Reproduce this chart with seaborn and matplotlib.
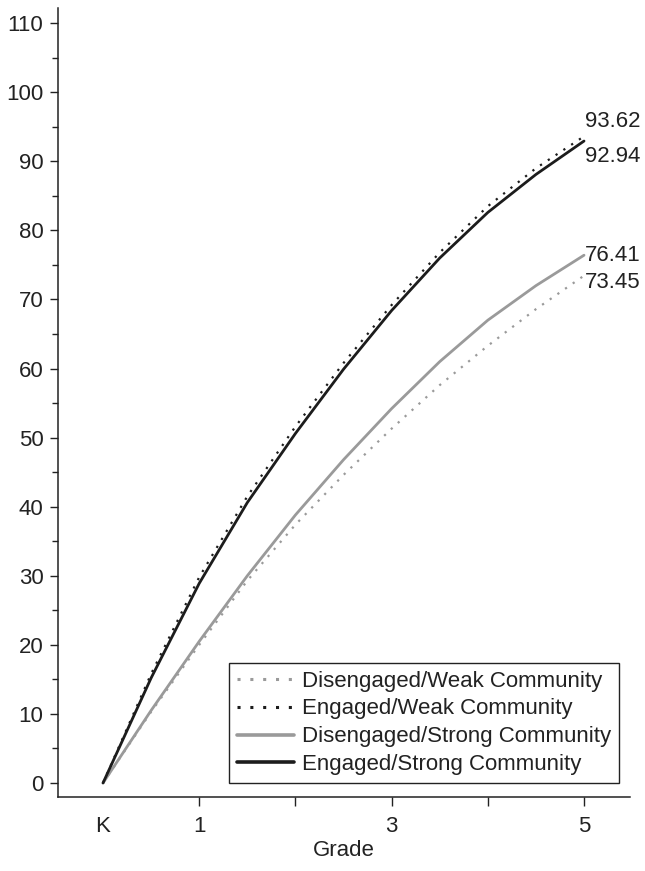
import matplotlib
matplotlib.use("Agg")
import matplotlib.pyplot as plt
import seaborn as sns
import pandas as pd
from matplotlib.ticker import FixedLocator, MultipleLocator

# Growth in score by grade (K = 0) for four engagement / community groups
grades = [0, 0.5, 1, 1.5, 2, 2.5, 3, 3.5, 4, 4.5, 5]
disengaged_weak = [0, 10.3, 20.0, 29.3, 37.4, 44.6, 51.3, 57.6, 63.3, 68.6, 73.45]
engaged_weak = [0, 15.8, 29.8, 41.5, 51.6, 60.8, 69.2, 76.8, 83.5, 89.0, 93.62]
disengaged_strong = [0, 10.5, 20.5, 30.0, 38.8, 46.8, 54.2, 61.0, 67.0, 72.0, 76.41]
engaged_strong = [0, 15.2, 28.9, 40.6, 50.6, 59.9, 68.4, 76.0, 82.6, 88.1, 92.94]

series_names = ["Disengaged/Weak Community", "Engaged/Weak Community",
                "Disengaged/Strong Community", "Engaged/Strong Community"]
series_values = [disengaged_weak, engaged_weak, disengaged_strong, engaged_strong]

x_tick_values = [0, 1, 3, 5]
x_tick_labels = ["K", "1", "3", "5"]

sns.set_theme(style="ticks")
plt.rcParams["font.family"] = ["Liberation Sans", "DejaVu Sans"]

FS = 16
INK = "#222222"
BLACK = "#1c1c1c"
GRAY = "#9a9a9a"
DOT = (0, (1, 3.2))
styles = {
    "Disengaged/Weak Community": dict(color=GRAY, linestyle=DOT, lw=1.6),
    "Engaged/Weak Community": dict(color=BLACK, linestyle=DOT, lw=1.6),
    "Disengaged/Strong Community": dict(color=GRAY, linestyle="-", lw=2.0),
    "Engaged/Strong Community": dict(color=BLACK, linestyle="-", lw=2.0),
}

fig = plt.figure(figsize=(6.45, 8.71), dpi=100)
ax = fig.add_axes([58 / 645, 1 - 797 / 871, (630 - 58) / 645, (797 - 8) / 871])

frames = []
for name, vals in zip(series_names, series_values):
    frames.append(pd.DataFrame({"Grade": grades, "Score": vals, "Group": name}))
df = pd.concat(frames, ignore_index=True)

for name in series_names:
    st = styles[name]
    sns.lineplot(data=df[df["Group"] == name], x="Grade", y="Score", ax=ax,
                 color=st["color"], linewidth=st["lw"], label=name,
                 sort=True, estimator=None)
    ax.lines[-1].set_linestyle(st["linestyle"])

# End-of-line value labels (vertical nudge in points keeps the pairs apart)
end_labels = [
    (engaged_weak[-1], 10.4),
    (engaged_strong[-1], -10.8),
    (disengaged_strong[-1], 0.0),
    (disengaged_weak[-1], -4.7),
]
for val, dy in end_labels:
    ax.annotate(f"{val:.2f}", xy=(5, val), xytext=(0.5, dy),
                textcoords="offset points", ha="left", va="center",
                fontsize=FS, color=INK, annotation_clip=False)

ax.set_xlim(-0.468, 5.478)
ax.set_ylim(-2.03, 112.2)
ax.set_xticks(x_tick_values)
ax.set_xticklabels(x_tick_labels)
ax.xaxis.set_minor_locator(FixedLocator([2, 4]))
ax.set_yticks(range(0, 111, 10))
ax.yaxis.set_minor_locator(MultipleLocator(5))

ax.tick_params(axis="both", which="major", direction="out", length=6,
               width=1.0, color=INK, labelsize=FS, labelcolor=INK, pad=4.5)
ax.tick_params(axis="y", which="minor", direction="out", length=4.5, width=1.0,
               color=INK)
ax.tick_params(axis="x", which="minor", direction="out", length=6.5, width=1.0,
               color=INK)
ax.tick_params(axis="x", which="major", length=6.5, pad=7)
ax.xaxis.get_major_ticks()[0].tick1line.set_visible(False)

sns.despine(ax=ax)
for side in ("left", "bottom"):
    ax.spines[side].set_color(INK)
    ax.spines[side].set_linewidth(1.1)

ax.set_xlabel("Grade", fontsize=FS, color=INK, labelpad=2)
ax.set_ylabel("")

leg = ax.legend(loc="lower right", bbox_to_anchor=(0.981, 0.0177), fontsize=FS,
                frameon=True, fancybox=False, framealpha=1, edgecolor=INK,
                handlelength=2.6, handletextpad=0.35, labelspacing=0.31,
                borderpad=0.35, borderaxespad=0.0)
leg.get_frame().set_linewidth(1.0)
for h, name in zip(leg.get_lines(), series_names):
    h.set_linestyle(styles[name]["linestyle"])
    h.set_linewidth(styles[name]["lw"] + 0.6)
for t in leg.get_texts():
    t.set_color(INK)

fig.savefig("out.png", dpi=100)
